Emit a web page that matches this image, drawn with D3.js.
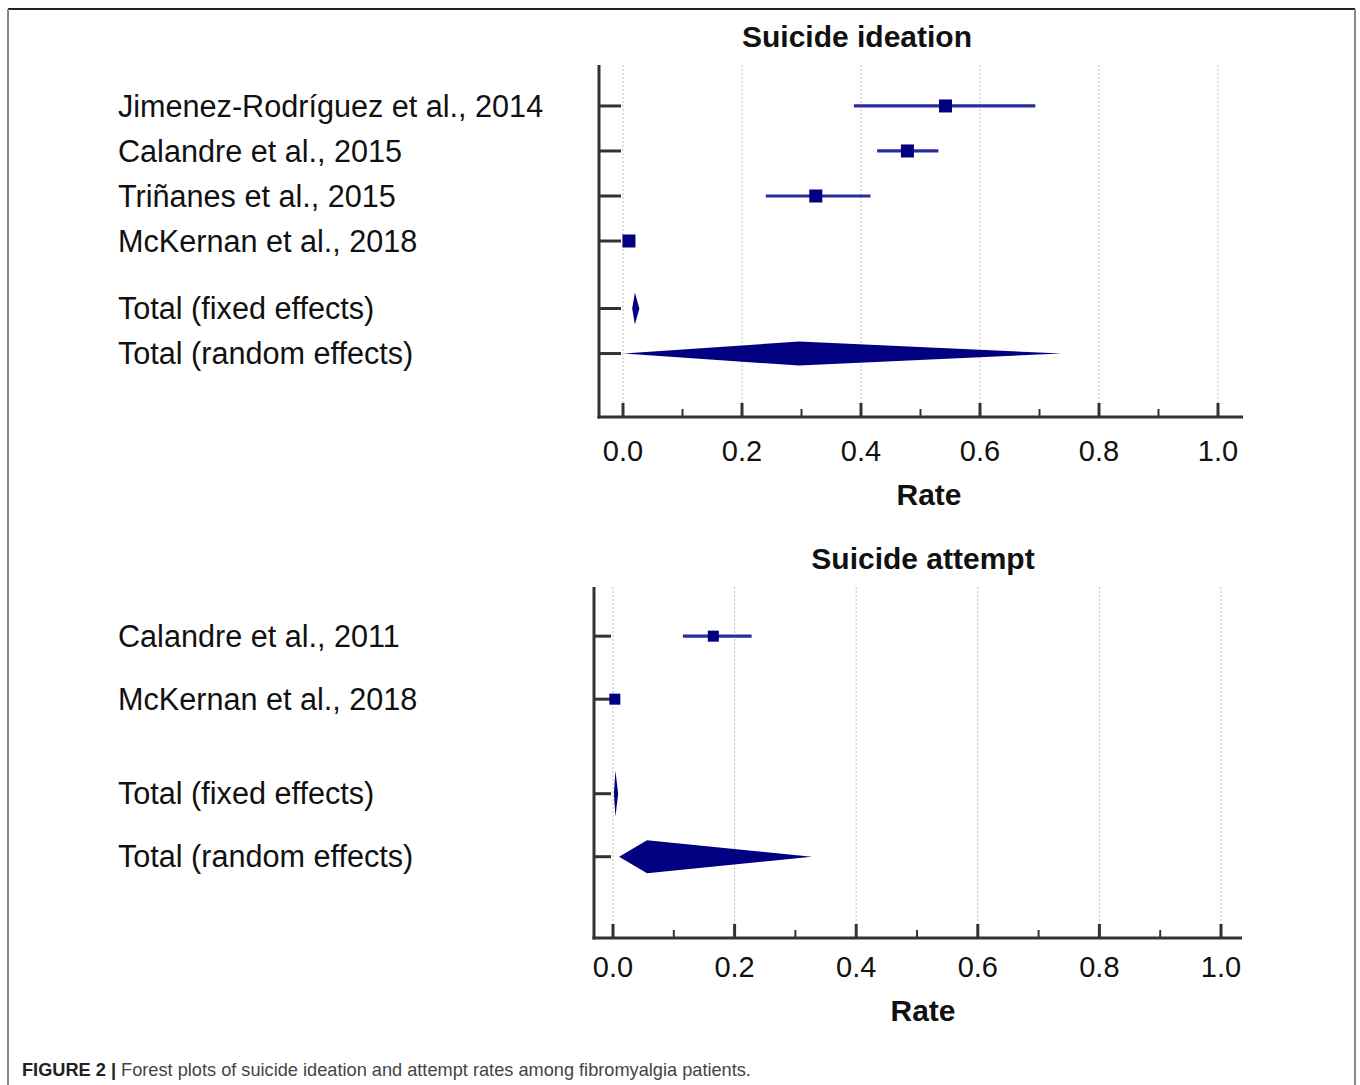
<!DOCTYPE html>
<html>
<head>
<meta charset="utf-8">
<script src="https://cdn.jsdelivr.net/npm/d3@7"></script>
<style>
  html, body { margin: 0; padding: 0; background: #fff; }
  svg { display: block; font-family: "Liberation Sans", Arial, sans-serif; }
</style>
</head>
<body>
<svg id="chart" width="1360" height="1085"></svg>
<script>
// ---- Data ----
const ideationStudies = ["Jimenez-Rodríguez et al., 2014", "Calandre et al., 2015", "Triñanes et al., 2015", "McKernan et al., 2018"];
const ideationRate = [0.542, 0.478, 0.324, 0.010];
const ideationLow  = [0.388, 0.427, 0.240, 0.004];
const ideationHigh = [0.693, 0.530, 0.416, 0.016];
const ideationFixed  = [0.020, 0.0155, 0.0275];   // [estimate, low, high]
const ideationRandom = [0.296, 0.001, 0.737];

const attemptStudies = ["Calandre et al., 2011", "McKernan et al., 2018"];
const attemptRate = [0.165, 0.003];
const attemptLow  = [0.115, 0.001];
const attemptHigh = [0.228, 0.006];
const attemptFixed  = [0.004, 0.0015, 0.0085];
const attemptRandom = [0.056, 0.010, 0.327];

const totalLabels = ["Total (fixed effects)", "Total (random effects)"];
const xTicks = [0, 0.2, 0.4, 0.6, 0.8, 1.0];
const xMinorTicks = [0.1, 0.3, 0.5, 0.7, 0.9];
const axisTitle = "Rate";
const titles = ["Suicide ideation", "Suicide attempt"];
const captionBold = "FIGURE 2 |";
const captionText = " Forest plots of suicide ideation and attempt rates among fibromyalgia patients.";

// ---- Drawing ----
const svg = d3.select("#chart");
const NAVY = "#000080";
const BAR = "#2b2ba0";
const AXIS = "#333333";

// frame
svg.append("line").attr("x1", 8).attr("x2", 1355).attr("y1", 9).attr("y2", 9).attr("stroke", "#222").attr("stroke-width", 2);
svg.append("line").attr("x1", 8).attr("x2", 8).attr("y1", 9).attr("y2", 1085).attr("stroke", "#888").attr("stroke-width", 2);
svg.append("line").attr("x1", 1355).attr("x2", 1355).attr("y1", 9).attr("y2", 1085).attr("stroke", "#888").attr("stroke-width", 2);

function panel(cfg) {
  const g = svg.append("g");
  const x = d3.scaleLinear().domain([0, 1]).range([cfg.x0, cfg.x1]);
  const y = d3.scaleLinear().domain(cfg.yDomain).range([cfg.top, cfg.bottom]);

  // grid lines
  g.selectAll(".grid").data(xTicks).enter().append("line")
    .attr("x1", d => x(d)).attr("x2", d => x(d))
    .attr("y1", cfg.top).attr("y2", cfg.bottom)
    .attr("stroke", "#bdbdbd").attr("stroke-width", 1).attr("stroke-dasharray", "2,2");

  // y axis
  g.append("line").attr("x1", cfg.axisX).attr("x2", cfg.axisX)
    .attr("y1", cfg.top).attr("y2", cfg.bottom + 1.5)
    .attr("stroke", AXIS).attr("stroke-width", 3);
  // x axis
  g.append("line").attr("x1", cfg.axisX - 1.5).attr("x2", cfg.axisEnd)
    .attr("y1", cfg.bottom).attr("y2", cfg.bottom)
    .attr("stroke", AXIS).attr("stroke-width", 3);

  // major / minor ticks
  g.selectAll(".maj").data(xTicks).enter().append("line")
    .attr("x1", d => x(d)).attr("x2", d => x(d))
    .attr("y1", cfg.bottom).attr("y2", cfg.bottom - 14)
    .attr("stroke", AXIS).attr("stroke-width", 3);
  g.selectAll(".min").data(xMinorTicks).enter().append("line")
    .attr("x1", d => x(d)).attr("x2", d => x(d))
    .attr("y1", cfg.bottom).attr("y2", cfg.bottom - 8)
    .attr("stroke", AXIS).attr("stroke-width", 2);

  // tick labels
  g.selectAll(".tl").data(xTicks).enter().append("text")
    .attr("x", d => x(d)).attr("y", cfg.tickLabelY)
    .attr("text-anchor", "middle").attr("font-size", 29).attr("fill", "#111")
    .text(d => d3.format(".1f")(d));
  g.append("text").attr("x", cfg.rateX).attr("y", cfg.rateY)
    .attr("text-anchor", "middle").attr("font-size", 30).attr("font-weight", "bold").attr("fill", "#111")
    .text(axisTitle);
  g.append("text").attr("x", cfg.titleX).attr("y", cfg.titleY)
    .attr("text-anchor", "middle").attr("font-size", 30).attr("font-weight", "bold").attr("fill", "#111")
    .text(cfg.title);

  const rows = cfg.studies.map((s, i) => ({ label: s, idx: i, rate: cfg.rate[i], low: cfg.low[i], high: cfg.high[i] }));
  const nS = cfg.studies.length;
  const totIdx = [nS + 0.5, nS + 1.5];
  const allIdx = rows.map(r => r.idx).concat(totIdx);
  const allLabels = cfg.studies.concat(totalLabels);

  // row ticks
  g.selectAll(".rt").data(allIdx).enter().append("line")
    .attr("x1", cfg.axisX).attr("x2", x(0) - 2)
    .attr("y1", d => y(d)).attr("y2", d => y(d))
    .attr("stroke", AXIS).attr("stroke-width", 3);

  // row labels
  g.selectAll(".rl").data(allLabels).enter().append("text")
    .attr("x", 118).attr("y", (d, i) => y(allIdx[i])).attr("dy", "0.35em")
    .attr("font-size", 30.6).attr("fill", "#111")
    .text(d => d);

  // CI bars
  g.selectAll(".ci").data(rows).enter().append("line")
    .attr("x1", d => x(d.low)).attr("x2", d => x(d.high))
    .attr("y1", d => y(d.idx)).attr("y2", d => y(d.idx))
    .attr("stroke", BAR).attr("stroke-width", 3.2);
  // squares
  const s = cfg.sq;
  g.selectAll(".sq").data(rows).enter().append("rect")
    .attr("x", d => x(d.rate) - s / 2).attr("y", d => y(d.idx) - s / 2)
    .attr("width", s).attr("height", s).attr("fill", NAVY);

  // diamonds
  const dias = [
    { e: cfg.fixed, idx: totIdx[0], h: cfg.hFixed },
    { e: cfg.random, idx: totIdx[1], h: cfg.hRandom }
  ];
  g.selectAll(".dia").data(dias).enter().append("path")
    .attr("d", d => {
      const cy = y(d.idx);
      return d3.line()([
        [x(d.e[1]), cy], [x(d.e[0]), cy - d.h / 2], [x(d.e[2]), cy], [x(d.e[0]), cy + d.h / 2]
      ]) + "Z";
    })
    .attr("fill", NAVY);
}

panel({
  title: titles[0], studies: ideationStudies, rate: ideationRate, low: ideationLow, high: ideationHigh,
  fixed: ideationFixed, random: ideationRandom,
  x0: 623, x1: 1218, axisX: 599, axisEnd: 1243, top: 65, bottom: 417,
  yDomain: [-0.91, 6.91], sq: 13, hFixed: 32, hRandom: 24,
  tickLabelY: 461, rateX: 929, rateY: 505, titleX: 857, titleY: 47
});

panel({
  title: titles[1], studies: attemptStudies, rate: attemptRate, low: attemptLow, high: attemptHigh,
  fixed: attemptFixed, random: attemptRandom,
  x0: 613, x1: 1221, axisX: 594, axisEnd: 1242, top: 587, bottom: 938,
  yDomain: [-0.78, 4.79], sq: 11, hFixed: 46, hRandom: 33,
  tickLabelY: 977, rateX: 923, rateY: 1021, titleX: 923, titleY: 569
});

// caption
const cap = svg.append("text").attr("x", 22).attr("y", 1076).attr("font-size", 18.2);
cap.append("tspan").attr("font-weight", "bold").attr("fill", "#222").text(captionBold);
cap.append("tspan").attr("fill", "#444").text(captionText);
</script>
</body>
</html>
